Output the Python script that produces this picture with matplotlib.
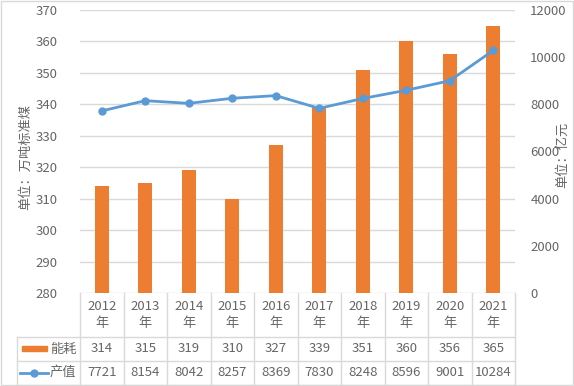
import matplotlib.pyplot as plt
from matplotlib.patches import Rectangle
from matplotlib.lines import Line2D
import numpy as np

plt.rcParams['font.family'] = ['Noto Sans CJK SC', 'DejaVu Sans']

years = ['2012', '2013', '2014', '2015', '2016', '2017', '2018', '2019', '2020', '2021']
energy = [314, 315, 319, 310, 327, 339, 351, 360, 356, 365]
output = [7721, 8154, 8042, 8257, 8369, 7830, 8248, 8596, 9001, 10284]

ORANGE = '#ED7D31'
BLUE = '#5B9BD5'
TXT = '#666666'
GRID = '#D9D9D9'
FS = 9.5

W, H = 574, 386
fig = plt.figure(figsize=(W / 100, H / 100), dpi=100)

def fx(px):
    return px / W

def fy(py):
    return 1 - py / H

x0, x1, ytop, ybot = 80, 515, 10, 293
ax = fig.add_axes([fx(x0), fy(ybot), fx(x1) - fx(x0), fy(ytop) - fy(ybot)])
x = np.arange(len(years))
ax.bar(x, energy, width=0.32, color=ORANGE, zorder=2)
ax.set_xlim(-0.5, len(years) - 0.5)
ax.set_ylim(280, 370)
ax.set_yticks(range(280, 371, 10))
ax.grid(axis='y', color=GRID, lw=1, zorder=0)
ax.set_axisbelow(True)
ax.set_xticks([])
ax.tick_params(axis='y', length=0, pad=16, labelsize=FS, labelcolor=TXT)
for s in ax.spines.values():
    s.set_visible(False)

ax2 = ax.twinx()
ax2.plot(x, output, color=BLUE, lw=2, marker='o', ms=5, zorder=3)
ax2.set_ylim(0, 12000)
ax2.set_yticks(range(0, 12001, 2000))
ax2.tick_params(axis='y', length=0, pad=11, labelsize=FS, labelcolor=TXT)
for s in ax2.spines.values():
    s.set_visible(False)

fig.text(fx(26), fy(157), '单位：万吨标准煤', rotation=90, ha='center', va='center',
         fontsize=FS, color=TXT)
fig.text(fx(563), fy(155), '单位：亿元', rotation=90, ha='center', va='center',
         fontsize=FS, color=TXT)

# data table below the plot
cw = (x1 - x0) / len(years)
r1, r2, r3 = 337, 361, 385
lines = []
for i in range(len(years) + 1):
    cx = x0 + i * cw
    lines.append(([cx, cx], [ybot, r3]))
lines.append(([17, 17], [r1, r3]))
for ry in (r1, r2, r3):
    lines.append(([17, x1], [ry, ry]))
for xs, ys in lines:
    fig.add_artist(Line2D([fx(v) for v in xs], [fy(v) for v in ys], color=GRID, lw=1))

for i, yr in enumerate(years):
    cx = x0 + (i + 0.5) * cw
    fig.text(fx(cx), fy(306), yr, ha='center', va='center', fontsize=FS, color=TXT)
    fig.text(fx(cx), fy(324), '年', ha='center', va='center', fontsize=FS, color=TXT)
    fig.text(fx(cx), fy(349), str(energy[i]), ha='center', va='center', fontsize=FS, color=TXT)
    fig.text(fx(cx), fy(372.5), str(output[i]), ha='center', va='center', fontsize=FS, color=TXT)

fig.add_artist(Rectangle((fx(22), fy(351)), fx(47) - fx(22), fy(346) - fy(351),
                         color=ORANGE, transform=fig.transFigure))
fig.add_artist(Line2D([fx(20), fx(48)], [fy(372.5), fy(372.5)], color=BLUE, lw=2,
                      transform=fig.transFigure))
fig.add_artist(Line2D([fx(34)], [fy(372.5)], color=BLUE, marker='o', ms=5,
                      transform=fig.transFigure))
fig.text(fx(63), fy(349), '能耗', ha='center', va='center', fontsize=FS, color=TXT)
fig.text(fx(63), fy(372.5), '产值', ha='center', va='center', fontsize=FS, color=TXT)

fig.add_artist(Rectangle((0.001, 0.002), 0.997, 0.996, fill=False, ec=GRID, lw=1,
                         transform=fig.transFigure))

fig.savefig('out.png', dpi=100)
